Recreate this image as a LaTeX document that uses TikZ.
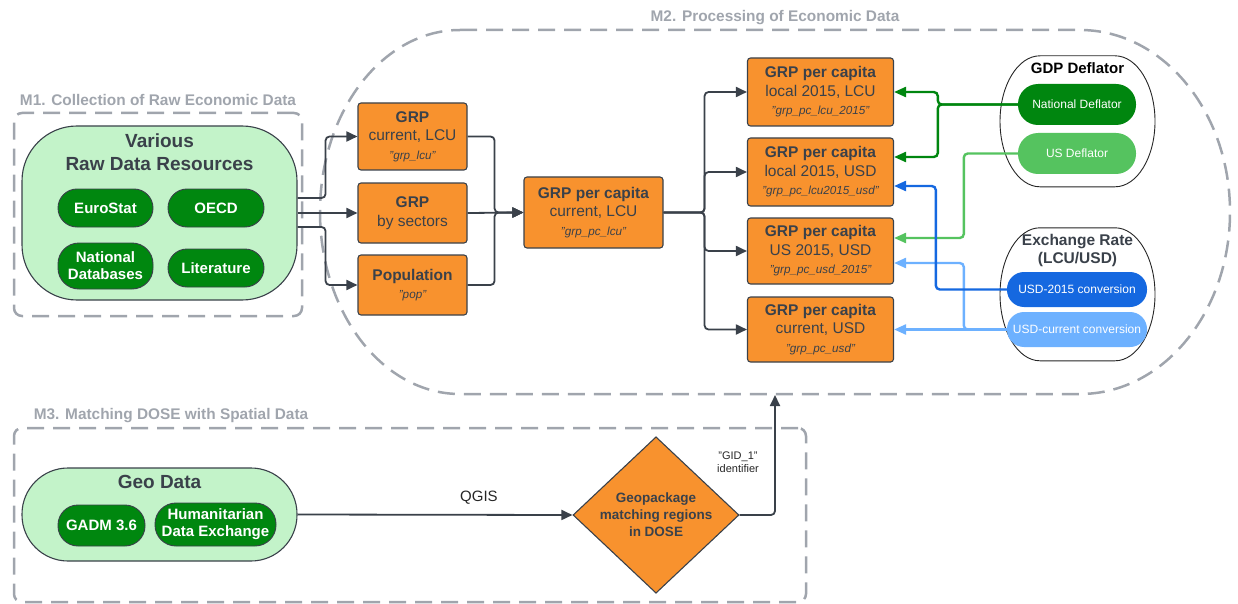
\documentclass[tikz,border=0pt]{standalone}
\usepackage{fontspec}
\setmainfont{Liberation Sans}
\usetikzlibrary{arrows.meta,shapes.geometric,calc}
\definecolor{dk}{HTML}{3A414A}
\definecolor{orng}{HTML}{F8922E}
\definecolor{lgreen}{HTML}{C3F3C9}
\definecolor{dgreen}{HTML}{00870F}
\definecolor{mgray}{HTML}{A0A5AD}
\definecolor{natg}{HTML}{00860F}
\definecolor{usg}{HTML}{55C35F}
\definecolor{blu}{HTML}{1568E0}
\definecolor{lblu}{HTML}{6DB1FF}
\newcommand\codefnt{\fontsize{11.7}{13}\selectfont\itshape}
\begin{document}
\begin{tikzpicture}[x=1pt,y=-1pt,
  obox/.style={draw=dk, fill=orng, rounded corners=3, line width=1.1, align=center, text=dk, font=\fontsize{15.5}{18.5}\selectfont, inner sep=0},
  pill/.style={draw=dk, fill=dgreen, text=white, font=\fontsize{15}{17}\selectfont\bfseries, align=center, inner sep=0, line width=0.9},
  blob/.style={draw=dk, fill=lgreen, line width=1.1, inner sep=0},
  cont/.style={draw=black!85, line width=0.9, fill=white},
  dpill/.style={text=white, font=\fontsize{12}{14}\selectfont, inner sep=0},
  mbox/.style={draw=mgray, dash pattern=on 17pt off 9pt, line width=2.5, inner sep=0},
  mlabel/.style={text=mgray, font=\fontsize{15.4}{17}\selectfont\bfseries, inner sep=0},
  ttl/.style={text=dk, font=\fontsize{19}{23}\selectfont\bfseries, align=center, inner sep=0},
  conn/.style={draw=dk, line width=1.8, rounded corners=4, -{Triangle[length=11pt,width=10pt]}},
  cconn/.style={line width=2.4, rounded corners=4, -{Triangle[length=12pt,width=10pt]}}
]
\useasboundingbox (0,0) rectangle (1238,604);

% module frames
\draw[mbox] (460,30) -- (1080,30) arc[start angle=-90, end angle=90, x radius=150, y radius=182]
  -- (460,394) arc[start angle=90, end angle=270, x radius=140, y radius=182] -- cycle;
\coordinate (m2) at (775,212);
\node[mbox, rounded corners=8, minimum width=288, minimum height=203] (m1) at (158,214.5) {};
\node[mbox, rounded corners=8, minimum width=792, minimum height=174] (m3) at (410,515) {};
\node[mlabel] (m1l) at (158,100) {M1. Collection of Raw Economic Data};
\node[mlabel] (m2l) at (775,18) {M2. Processing of Economic Data};
\node[mlabel] (m3l) at (171,416) {M3. Matching DOSE with Spatial Data};

% M1
\node[blob, rounded corners=55, minimum width=275, minimum height=174] (various) at (159.5,213) {};
\node[ttl] (varioust) at (159.5,152) {Various\\Raw Data Resources};
\node[pill, rounded corners=19, minimum width=95, minimum height=38] (eurostat) at (105.5,208) {EuroStat};
\node[pill, rounded corners=19, minimum width=96, minimum height=38] (oecd) at (216,208) {OECD};
\node[pill, rounded corners=21, minimum width=95, minimum height=46] (natdb) at (105.5,266) {National\\Databases};
\node[pill, rounded corners=19, minimum width=96, minimum height=38] (lit) at (216,268) {Literature};

% M2 left boxes
\node[obox, minimum width=109, minimum height=67] (grp) at (412.5,136.5) {\textbf{GRP}\\current, LCU\\{\codefnt "grp\_lcu"}};
\node[obox, minimum width=109, minimum height=60] (grpsec) at (412.5,213) {\textbf{GRP}\\by sectors};
\node[obox, minimum width=109, minimum height=60] (pop) at (412.5,285) {\textbf{Population}\\{\codefnt "pop"}};
\node[obox, minimum width=139, minimum height=71] (grppc) at (593.5,212.5) {\textbf{GRP per capita}\\current, LCU\\{\codefnt "grp\_pc\_lcu"}};

% M2 right boxes
\node[obox, minimum width=146, minimum height=68] (b1) at (820.5,92) {\textbf{GRP per capita}\\local 2015, LCU\\{\codefnt "grp\_pc\_lcu\_2015"}};
\node[obox, minimum width=146, minimum height=68] (b2) at (820.5,172) {\textbf{GRP per capita}\\local 2015, USD\\{\codefnt "grp\_pc\_lcu2015\_usd"}};
\node[obox, minimum width=146, minimum height=66] (b3) at (820.5,251) {\textbf{GRP per capita}\\US 2015, USD\\{\codefnt "grp\_pc\_usd\_2015"}};
\node[obox, minimum width=146, minimum height=65] (b4) at (820.5,329.5) {\textbf{GRP per capita}\\current, USD\\{\codefnt "grp\_pc\_usd"}};

% deflator / exchange containers
\node[inner sep=0, minimum width=155, minimum height=131] (gdpdef) at (1077.5,121.5) {};
\draw[cont] ($(gdpdef.north)+(-37.5,0)$) -- ++(75,0) arc[start angle=-90, end angle=90, x radius=40, y radius=65.5]
  -- ++(-75,0) arc[start angle=90, end angle=270, x radius=40, y radius=65.5] -- cycle;
\node[inner sep=0, font=\fontsize{15}{18}\selectfont\bfseries, text=black] (gdpdeft) at (1077.5,68) {GDP Deflator};
\node[dpill, fill=natg, rounded corners=20, minimum width=118, minimum height=41] (natdef) at (1077,104.5) {National Deflator};
\node[dpill, fill=usg, rounded corners=20, minimum width=118, minimum height=41] (usdef) at (1077,153.5) {US Deflator};

\node[inner sep=0, minimum width=155, minimum height=133] (exch) at (1077.5,294.5) {};
\draw[cont] ($(exch.north)+(-37.5,0)$) -- ++(75,0) arc[start angle=-90, end angle=90, x radius=40, y radius=66.5]
  -- ++(-75,0) arc[start angle=90, end angle=270, x radius=40, y radius=66.5] -- cycle;
\node[inner sep=0, font=\fontsize{15.5}{18}\selectfont\bfseries, text=dk, align=center] (excht) at (1077.5,250) {Exchange Rate\\(LCU/USD)};
\node[dpill, fill=blu, rounded corners=17, minimum width=140, minimum height=35] (usd2015) at (1077,289.5) {USD-2015 conversion};
\node[dpill, fill=lblu, rounded corners=17, minimum width=140, minimum height=35] (usdcur) at (1077,329.5) {USD-current conversion};

% M3
\node[blob, rounded corners=46, minimum width=275, minimum height=93] (geo) at (159.5,514.5) {};
\node[ttl] (geot) at (159.5,482) {Geo Data};
\node[pill, rounded corners=20, minimum width=87, minimum height=41] (gadm) at (101.5,525.5) {GADM 3.6};
\node[pill, rounded corners=21, minimum width=121, minimum height=43] (hde) at (215.5,524.5) {Humanitarian\\Data Exchange};
\node[diamond, draw=dk, fill=orng, line width=1.1, minimum width=166, minimum height=130, inner sep=0, align=center, text=dk, font=\fontsize{13.5}{17}\selectfont\bfseries] (dia) at (656,515) {Geopackage\\matching regions\\in DOSE};
\node[inner sep=0, align=center, text=black!85, font=\fontsize{11}{13}\selectfont] (gidl) at (738,462) {"GID\_1"\\identifier};
\coordinate (gidend) at (775,395);

% connectors M1 -> M2
\draw[conn] ($(various.east)+(0,-15)$) -- ++(28,0) |- (grp.west);
\draw[conn] (various.east) -- (grpsec.west);
\draw[conn] ($(various.east)+(0,14)$) -- ++(28,0) |- (pop.west);

\draw[conn] (grp.east) -- ++(27,0) |- (grppc.west);
\draw[conn] (pop.east) -- ++(27,0) |- (grppc.west);
\draw[conn] (grpsec.east) -- (grppc.west);

\draw[conn] (grppc.east) -- ++(41,0) |- (b1.west);
\draw[conn] (grppc.east) -- ++(41,0) |- (b2.west);
\draw[conn] (grppc.east) -- ++(41,0) |- (b3.west);
\draw[conn] (grppc.east) -- ++(41,0) |- (b4.west);

% coloured connectors
\draw[cconn, draw=lblu] (usdcur.west) -- ++(-43,0) |- ($(b3.east)+(0,12)$);
\draw[cconn, draw=lblu] (usdcur.west) -- (b4.east);
\draw[cconn, draw=usg] (usdef.west) -- ++(-54,0) |- ($(b3.east)+(0,-13)$);
\draw[cconn, draw=blu] (usd2015.west) -- ++(-71,0) |- ($(b2.east)+(0,14)$);
\draw[cconn, draw=natg] (natdef.west) -- ++(-80,0) |- (b1.east);
\draw[cconn, draw=natg] (natdef.west) -- ++(-80,0) |- ($(b2.east)+(0,-15)$);

% M3 connectors
\draw[conn] (geo.east) -- node[pos=0.66, above=10pt, inner sep=0, text=black!85, font=\fontsize{15}{18}\selectfont] (qgis) {QGIS} (dia.west);
\draw[conn] (dia.east) -| (gidend);
\end{tikzpicture}
\end{document}
